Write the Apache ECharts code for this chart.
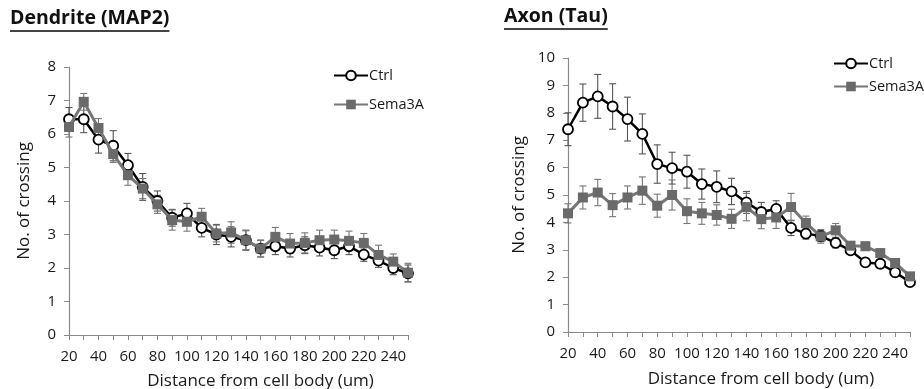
<!DOCTYPE html>
<html><head><meta charset="utf-8">
<script src="https://cdn.jsdelivr.net/npm/echarts@6/dist/echarts.min.js"></script>
<style>html,body{margin:0;padding:0;background:#fff}#c{width:924px;height:389px}</style>
</head><body><div id="c"></div>
<script>
// ---- data ----
const distances = [20,30,40,50,60,70,80,90,100,110,120,130,140,150,160,170,180,190,200,210,220,230,240,250];
const xTickLabels = [20,40,60,80,100,120,140,160,180,200,220,240];
const seriesNames = ['Ctrl','Sema3A'];
const chartTitles = ['Dendrite (MAP2)','Axon (Tau)'];
const yAxisName = 'No. of crossing';
const xAxisName = 'Distance from cell body (um)';

const dendriteCtrl    = [6.44,6.44,5.83,5.65,5.07,4.42,4.00,3.50,3.63,3.20,3.00,2.93,2.83,2.58,2.65,2.58,2.68,2.61,2.53,2.65,2.40,2.22,2.00,1.84];
const dendriteCtrlErr = [0.35,0.40,0.40,0.45,0.35,0.40,0.30,0.25,0.30,0.27,0.30,0.30,0.30,0.25,0.25,0.25,0.25,0.25,0.25,0.25,0.20,0.20,0.20,0.25];
const dendriteSema    = [6.21,6.96,6.18,5.40,4.77,4.37,3.90,3.43,3.38,3.53,3.03,3.06,2.83,2.58,2.93,2.73,2.75,2.83,2.85,2.81,2.75,2.39,2.19,1.86];
const dendriteSemaErr = [0.30,0.25,0.28,0.25,0.30,0.30,0.27,0.30,0.28,0.25,0.25,0.32,0.28,0.25,0.28,0.30,0.30,0.30,0.28,0.29,0.28,0.29,0.23,0.28];

const axonCtrl    = [7.40,8.37,8.60,8.23,7.77,7.23,6.13,5.98,5.85,5.40,5.30,5.13,4.73,4.38,4.49,3.80,3.59,3.50,3.25,2.98,2.54,2.49,2.18,1.82];
const axonCtrlErr = [0.60,0.68,0.80,0.83,0.80,0.73,0.70,0.58,0.60,0.55,0.58,0.48,0.40,0.35,0.30,0.28,0.20,0.20,0.18,0.15,0.15,0.15,0.12,0.10];
const axonSema    = [4.33,4.91,5.09,4.63,4.91,5.16,4.61,5.00,4.41,4.33,4.27,4.13,4.56,4.12,4.18,4.56,3.98,3.49,3.71,3.15,3.13,2.88,2.52,2.03];
const axonSemaErr = [0.35,0.42,0.48,0.42,0.42,0.50,0.42,0.55,0.45,0.40,0.37,0.35,0.50,0.35,0.40,0.50,0.25,0.25,0.25,0.15,0.15,0.15,0.12,0.10];

// ---- helpers ----
const FONT = '"Open Sans", "Liberation Sans", sans-serif';
const pairs = (ys) => distances.map((x, i) => [x, ys[i]]);
const errData = (ys, es) => distances.map((x, i) => [x, ys[i] - es[i], ys[i] + es[i]]);
function errRender(color) {
  return function (params, api) {
    const x = api.value(0);
    const lo = api.coord([x, api.value(1)]);
    const hi = api.coord([x, api.value(2)]);
    const hw = 3.5;
    const style = { stroke: color, lineWidth: 1.1 };
    return { type: 'group', children: [
      { type: 'line', shape: { x1: lo[0], y1: lo[1], x2: hi[0], y2: hi[1] }, style },
      { type: 'line', shape: { x1: lo[0] - hw, y1: lo[1], x2: lo[0] + hw, y2: lo[1] }, style },
      { type: 'line', shape: { x1: hi[0] - hw, y1: hi[1], x2: hi[0] + hw, y2: hi[1] }, style }
    ]};
  };
}
const axisColor = '#8a8a8a';
const labelColor = '#1a1a1a';
function xAxis(gi, margin, gap) {
  return {
    type: 'value', gridIndex: gi, min: 20, max: 250, interval: 10,
    axisLine: { show: true, lineStyle: { color: axisColor, width: 1.2 } },
    axisTick: { show: true, length: 5, lineStyle: { color: axisColor } },
    splitLine: { show: false },
    axisLabel: { color: labelColor, fontFamily: FONT, fontSize: 15, margin: margin,
      formatter: v => xTickLabels.indexOf(v) >= 0 ? String(v) : '' },
    name: xAxisName, nameLocation: 'middle', nameGap: gap,
    nameTextStyle: { color: labelColor, fontFamily: FONT, fontSize: 17, padding: [0, 0, 0, 44] }
  };
}
function yAxis(gi, max, gap) {
  return {
    type: 'value', gridIndex: gi, min: 0, max: max, interval: 1,
    axisLine: { show: true, lineStyle: { color: axisColor, width: 1.2 } },
    axisTick: { show: true, length: 5, lineStyle: { color: axisColor } },
    splitLine: { show: false },
    axisLabel: { color: labelColor, fontFamily: FONT, fontSize: 15, margin: 13 },
    name: yAxisName, nameLocation: 'middle', nameGap: gap, nameRotate: 90,
    nameTextStyle: { color: labelColor, fontFamily: FONT, fontSize: 17 }
  };
}
function ctrlSeries(gi, ys) {
  return { name: seriesNames[0], type: 'line', xAxisIndex: gi, yAxisIndex: gi, data: pairs(ys),
    symbol: 'circle', symbolSize: 10, z: 3,
    lineStyle: { color: '#000', width: 2.5 },
    itemStyle: { color: '#fff', borderColor: '#000', borderWidth: 1.8 } };
}
function semaSeries(gi, ys) {
  return { name: seriesNames[1], type: 'line', xAxisIndex: gi, yAxisIndex: gi, data: pairs(ys),
    symbol: 'rect', symbolSize: 10, z: 4,
    lineStyle: { color: '#777', width: 3 },
    itemStyle: { color: '#6a6a6a' } };
}
function errSeries(gi, ys, es, color) {
  return { name: 'err', type: 'custom', xAxisIndex: gi, yAxisIndex: gi, z: 2,
    data: errData(ys, es), encode: { x: 0, y: [1, 2] }, renderItem: errRender(color), silent: true };
}
function legend(left, top, gap) {
  return { data: seriesNames, orient: 'vertical', left, top, itemGap: gap, itemWidth: 34, itemHeight: 12,
    textStyle: { color: labelColor, fontFamily: FONT, fontSize: 14.5, padding: [0, 0, 0, -4] }, selectedMode: false };
}
const titleFont = 'bold 19.5px ' + FONT;
const mctx = document.createElement('canvas').getContext('2d');
mctx.font = titleFont;
function titleGraphic(text, x, y, uy) {
  const w = mctx.measureText(text).width;
  return [
    { type: 'text', x: x, y: y, style: { text: text, font: titleFont, fill: '#111' } },
    { type: 'line', shape: { x1: x, y1: uy, x2: x + w, y2: uy }, style: { stroke: '#444', lineWidth: 1.8 } }
  ];
}

const chart = echarts.init(document.getElementById('c'), null, { renderer: 'canvas' });
chart.setOption({
  animation: false,
  backgroundColor: '#fff',
  grid: [
    { left: 69, top: 67, width: 339, height: 268, containLabel: false, outerBoundsMode: 'none' },
    { left: 568, top: 58, width: 342, height: 274, containLabel: false, outerBoundsMode: 'none' }
  ],
  xAxis: [xAxis(0, 14, 38), xAxis(1, 14, 39)],
  yAxis: [yAxis(0, 8, 36), yAxis(1, 10, 40)],
  legend: [legend(328, 63, 14), legend(828, 51, 8)],
  series: [
    errSeries(0, dendriteCtrl, dendriteCtrlErr, '#555'),
    errSeries(0, dendriteSema, dendriteSemaErr, '#777'),
    ctrlSeries(0, dendriteCtrl),
    semaSeries(0, dendriteSema),
    errSeries(1, axonCtrl, axonCtrlErr, '#555'),
    errSeries(1, axonSema, axonSemaErr, '#777'),
    ctrlSeries(1, axonCtrl),
    semaSeries(1, axonSema)
  ],
  graphic: [].concat(
    titleGraphic(chartTitles[0], 10, 8, 31),
    titleGraphic(chartTitles[1], 504, 6, 29)
  )
});
</script></body></html>
